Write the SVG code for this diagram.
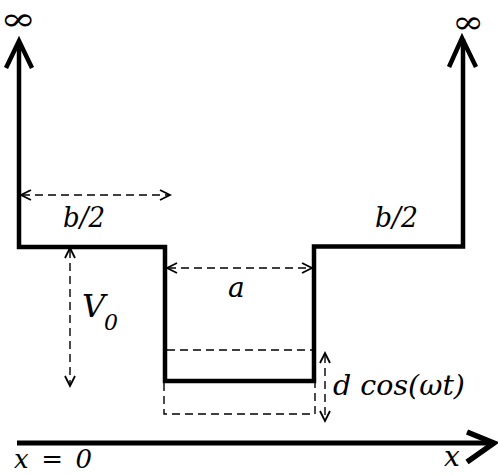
<svg xmlns="http://www.w3.org/2000/svg" width="498" height="475" viewBox="0 0 498 475">
<style>
.thick{fill:none;stroke:#000;stroke-width:4.5;stroke-linejoin:miter;stroke-linecap:butt}
.dash{fill:none;stroke:#000;stroke-width:1.4;stroke-dasharray:8,5}
.head{fill:none;stroke:#000;stroke-width:1.8}
text{fill:#000;font-family:"DejaVu Serif","Liberation Serif",serif}
.lbl{font-style:italic}
</style>
<rect width="498" height="475" fill="#fff"/>
<g id="connectors">
  <g id="potential">
    <path class="thick" d="M19,42 V247 H165 V381 H314 V246.5 H463 V39"/>
    <path class="thick" d="M6,68 L19,41 L32,68"/>
    <path class="thick" d="M449,67 L462,38 L476,67"/>
  </g>
  <g id="x-axis">
    <path class="thick" style="stroke-width:5" d="M17,443 H494"/>
    <path class="thick" style="stroke-width:5.5" d="M467,432 L494,443 L467,462"/>
  </g>
  <g id="b2-arrow">
    <path class="dash" d="M22,195 H169"/>
    <path class="head" d="M31,190 L21,195 L31,200 M160,190 L170,195 L160,200"/>
  </g>
  <g id="a-arrow">
    <path class="dash" d="M168,268 H311"/>
    <path class="head" d="M177,263 L167,268 L177,273 M302,263 L312,268 L302,273"/>
  </g>
  <g id="v0-arrow">
    <path class="dash" d="M70,250 V384"/>
    <path class="head" d="M65,258 L70,248 L75,258 M65,376 L70,386 L75,376"/>
  </g>
  <g id="d-arrow">
    <path class="dash" d="M325,355 V419"/>
    <path class="head" d="M320,363 L325,353 L330,363 M320,411 L325,421 L330,411"/>
  </g>
  <g id="oscillation">
    <path class="dash" d="M167,350 H313"/>
    <path class="dash" d="M164,383 V414 H315 V383"/>
  </g>
</g>
<g id="inf-left"><text x="18" y="30" font-size="32" text-anchor="middle" textLength="36" lengthAdjust="spacingAndGlyphs">∞</text></g>
<g id="inf-right"><text x="468" y="33" font-size="32" text-anchor="middle" textLength="32" lengthAdjust="spacingAndGlyphs">∞</text></g>
<g id="label-b2-left"><text class="lbl" x="63" y="227" font-size="28" textLength="42" lengthAdjust="spacingAndGlyphs">b/2</text></g>
<g id="label-b2-right"><text class="lbl" x="375" y="227" font-size="28" textLength="43" lengthAdjust="spacingAndGlyphs">b/2</text></g>
<g id="label-a"><text class="lbl" x="228" y="297" font-size="28">a</text></g>
<g id="label-v0"><text class="lbl" x="82" y="317" font-size="32">V<tspan font-size="22" dy="13" dx="-1">0</tspan></text></g>
<g id="label-d"><text class="lbl" x="333" y="395" font-size="28" textLength="132" lengthAdjust="spacingAndGlyphs">d cos(ωt)</text></g>
<g id="label-x0"><text class="lbl" x="14" y="468" font-size="26" textLength="78" lengthAdjust="spacing">x = 0</text></g>
<g id="label-x"><text class="lbl" x="444" y="466" font-size="28">x</text></g>
</svg>
